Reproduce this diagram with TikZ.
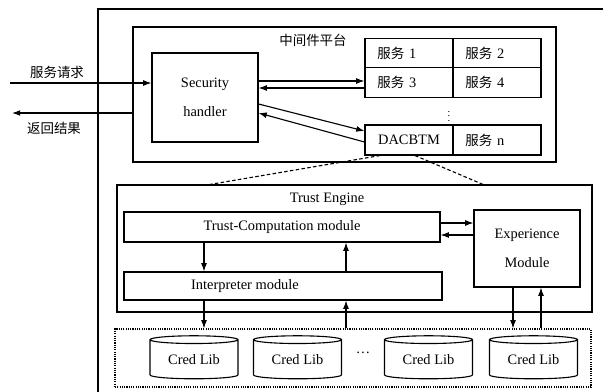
\documentclass[tikz,border=0pt]{standalone}
\usepackage{fontspec}
\setmainfont{Liberation Serif}
\newfontfamily\cjk{Noto Sans CJK SC}
\usetikzlibrary{arrows.meta,shapes.geometric}

\begin{document}
\begin{tikzpicture}[x=0.03cm,y=-0.03cm,line width=0.95pt,>={Latex[length=7pt,width=5pt]}]
            \tikzstyle{every node}+=[inner sep=0pt,font=\fontsize{12.3}{14}\selectfont]
            \tikzstyle{box}=[draw,rectangle]
            \tikzstyle{cell}=[draw,rectangle,minimum width=2.64cm,minimum height=0.885cm,text width=1.9cm,align=left]
            \tikzstyle{lib}=[draw,cylinder,shape border rotate=90,aspect=0.15,minimum width=2.64cm,minimum height=1.29cm]
            \useasboundingbox (0,0) rectangle (603,392);
            \draw (603,9) -- (98,9) -- (98,392);
            \node [box,minimum width=12.69cm,minimum height=4.05cm] (mw) at (344.5,94.5) {};
            \node (mwlabel) at (313,40) {\cjk\fontsize{11.5}{13}\selectfont 中间件平台};
            \node [box,minimum width=3.18cm,minimum height=2.67cm,align=center] (handler) at (205,97.5) {Security\\[11pt]handler};
            \node [cell] (s1) at (409,53) {{\cjk\fontsize{11.5}{13}\selectfont 服务} 1};
            \node [cell] (s2) at (497,53) {{\cjk\fontsize{11.5}{13}\selectfont 服务} 2};
            \node [cell] (s3) at (409,82.5) {{\cjk\fontsize{11.5}{13}\selectfont 服务} 3};
            \node [cell] (s4) at (497,82.5) {{\cjk\fontsize{11.5}{13}\selectfont 服务} 4};
            \node (vdots) at (449,113) {\fontsize{9}{10}\selectfont$\vdots$};
            \node [box,minimum width=2.64cm,minimum height=0.9cm] (dac) at (409,140) {DACBTM};
            \node [cell,minimum height=0.9cm] (sn) at (497,140) {{\cjk\fontsize{11.5}{13}\selectfont 服务} n};
            \coordinate (reqin) at (10,83);
            \coordinate (retout) at (12,113);
            \draw [->] (reqin) -- (reqin -| handler.west);
            \node (reqlabel) at (57,72) {\cjk\fontsize{11.5}{13}\selectfont 服务请求};
            \draw [->] (retout -| mw.west) -- (retout);
            \node (retlabel) at (54,128) {\cjk\fontsize{11.5}{13}\selectfont 返回结果};
            \draw [->] (handler.east |- 0,81) -- (s3.west |- 0,81);
            \draw [<-] (handler.east |- 0,88) -- (s3.west |- 0,88);
            \draw [->] (handler.east |- 0,104) -- (dac.west |- 0,131);
            \draw [<-] (handler.east |- 0,113) -- (dac.west |- 0,142);
            \node [box,minimum width=14.25cm,minimum height=3.81cm] (te) at (354.5,248.5) {};
            \node (telabel) at (327,199) {Trust Engine};
            \draw [densely dashed] (dac.south -| 380,0) -- (te.north -| 210,0);
            \draw [densely dashed] (dac.south -| 415,0) -- (te.north -| 483,0);
            \node [box,minimum width=9.48cm,minimum height=0.9cm] (tc) at (282,227) {Trust-Computation module};
            \node [box,minimum width=9.54cm,minimum height=0.84cm] (interp) at (283,286) {};
            \node (interplabel) at (245,286) {Interpreter module};
            \node [box,minimum width=3.18cm,minimum height=2.31cm,align=center] (exp) at (527,248.5) {Experience\\[11pt]Module};
            \node [draw,densely dotted,minimum width=14.28cm,minimum height=1.74cm] (libs) at (353,358) {};
            \node [lib] (lib1) at (194,359.5) {Cred Lib};
            \node [lib] (lib2) at (297.5,359.5) {Cred Lib};
            \node (libdots) at (363,353) {\dots};
            \node [lib] (lib3) at (428.5,359.5) {Cred Lib};
            \node [lib] (lib4) at (533.5,359.5) {Cred Lib};
            \draw [->] (tc.east |- 0,223) -- (exp.west |- 0,223);
            \draw [<-] (tc.east |- 0,235) -- (exp.west |- 0,235);
            \draw [->] (tc.south -| 204,0) -- (interp.north -| 204,0);
            \draw [<-] (tc.south -| 346,0) -- (interp.north -| 346,0);
            \draw [->] (interp.south -| 204,0) -- (libs.north -| 204,0);
            \draw [<-] (interp.south -| 346,0) -- (libs.north -| 346,0);
            \draw [->] (exp.south -| 513,0) -- (libs.north -| 513,0);
            \draw [<-] (exp.south -| 541,0) -- (libs.north -| 541,0);
        \end{tikzpicture}
\end{document}
